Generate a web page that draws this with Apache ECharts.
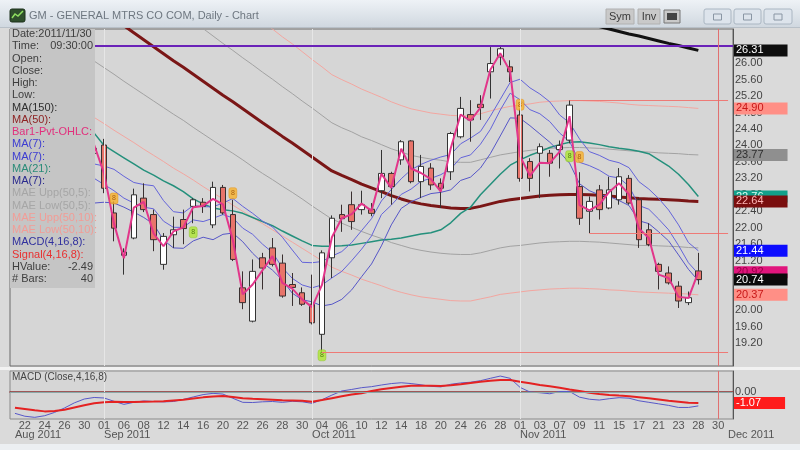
<!DOCTYPE html>
<html><head><meta charset="utf-8">
<script src="https://cdn.jsdelivr.net/npm/echarts@6/dist/echarts.min.js"></script>
<style>html,body{margin:0;padding:0;background:#dadada;}#c{width:800px;height:450px;}</style>
</head><body><div id="c"></div>
<script>
// ---------- categories (trading days) ----------
const dates = [
 '2011-08-19','2011-08-22','2011-08-23','2011-08-24','2011-08-25','2011-08-26','2011-08-29','2011-08-30','2011-08-31',
 '2011-09-01','2011-09-02','2011-09-06','2011-09-07','2011-09-08','2011-09-09','2011-09-12','2011-09-13','2011-09-14','2011-09-15','2011-09-16',
 '2011-09-19','2011-09-20','2011-09-21','2011-09-22','2011-09-23','2011-09-26','2011-09-27','2011-09-28','2011-09-29','2011-09-30',
 '2011-10-03','2011-10-04','2011-10-05','2011-10-06','2011-10-07','2011-10-10','2011-10-11','2011-10-12','2011-10-13','2011-10-14',
 '2011-10-17','2011-10-18','2011-10-19','2011-10-20','2011-10-21','2011-10-24','2011-10-25','2011-10-26','2011-10-27','2011-10-28','2011-10-31',
 '2011-11-01','2011-11-02','2011-11-03','2011-11-04','2011-11-07','2011-11-08','2011-11-09','2011-11-10','2011-11-11','2011-11-14',
 '2011-11-15','2011-11-16','2011-11-17','2011-11-18','2011-11-21','2011-11-22','2011-11-23','2011-11-25','2011-11-28','2011-11-29','2011-11-30',
 '2011-12-01'];
const monthNames = ['Jan','Feb','Mar','Apr','May','Jun','Jul','Aug','Sep','Oct','Nov','Dec'];

// ---------- price bars (first visible bar = 2011-08-31) ----------
const FIRST = 8;
const openRaw = [23.81,24.01,22.36,21.33,21.75,22.72,22.32,21.11,21.83,22.20,22.52,22.62,22.07,22.98,22.32,20.54,19.73,21.27,21.51,21.14,20.62,20.42,20.14,19.41,21.27,22.32,22.56,22.44,22.45,22.90,23.32,23.65,24.11,23.12,23.45,23.08,23.36,24.21,24.75,25.00,25.79,26.15,25.91,24.74,23.61,23.81,23.81,23.90,24.13,23.00,22.40,22.92,22.48,22.68,23.20,22.68,21.95,21.11,20.90,20.58,20.18,20.95];
const highRaw = [24.35,24.16,22.64,21.50,22.95,23.08,22.44,21.87,22.27,22.44,22.72,22.72,23.12,23.04,22.68,20.94,21.23,21.39,21.75,21.35,20.90,20.55,20.86,21.45,22.30,22.56,22.88,22.90,22.60,23.89,23.36,24.13,24.13,23.77,23.57,23.20,24.33,25.18,25.10,25.22,26.39,26.43,26.07,24.90,23.69,24.05,23.89,24.12,25.10,23.35,22.76,23.04,23.24,23.45,23.28,22.72,22.11,21.15,21.06,20.70,20.45,21.39];
const lowRaw = [23.75,22.84,21.67,20.86,21.72,22.38,21.43,20.98,21.51,21.60,22.11,22.36,21.99,22.32,21.19,20.02,19.70,20.50,21.06,20.30,20.10,20.10,19.65,18.98,20.78,21.90,21.95,22.32,22.28,22.72,22.56,23.53,23.08,22.72,22.92,22.48,23.16,24.17,24.09,24.62,25.14,25.95,25.54,23.12,22.88,22.72,23.24,23.44,24.05,22.07,21.87,22.20,22.45,22.56,22.56,21.51,21.55,20.50,20.62,20.05,20.12,20.62];
const closeRaw = [23.93,22.96,21.99,21.41,22.80,22.44,21.71,21.79,21.95,21.98,22.68,22.52,22.98,22.36,21.23,20.18,20.94,21.02,21.11,20.34,20.55,20.14,19.69,21.39,22.23,22.22,22.15,22.56,22.35,23.32,23.00,24.09,23.12,23.49,23.04,22.96,24.29,24.90,24.62,24.92,25.99,26.35,25.79,23.20,23.20,23.97,23.57,24.00,24.98,22.23,22.64,22.44,22.92,23.24,22.60,21.71,21.59,20.94,20.66,20.22,20.30,20.74];

// ---------- indicator lines ----------
const ma150Raw = [26.95,26.89,26.83,26.77,26.71,26.66,26.60,26.54,26.48,26.43,26.37,26.31]; // from 2011-11-10
const ma50Raw = [27.42,27.25,27.08,26.91,26.74,26.57,26.40,26.23,26.06,25.90,25.73,25.56,25.39,25.22,25.06,24.89,24.72,24.55,24.39,24.22,24.06,23.89,23.72,23.55,23.38,23.27,23.17,23.06,22.97,22.88,22.78,22.70,22.63,22.58,22.54,22.51,22.48,22.47,22.47,22.52,22.58,22.64,22.68,22.71,22.74,22.77,22.79,22.80,22.81,22.81,22.80,22.79,22.77,22.75,22.73,22.71,22.70,22.69,22.68,22.67,22.65,22.64];
const pivotRaw = [24.01,23.32,22.10,21.26,22.49,22.63,21.86,21.55,21.91,22.01,22.50,22.53,22.70,22.57,21.70,20.38,20.62,20.97,21.31,20.66,20.52,20.26,20.07,20.61,21.77,22.23,22.33,22.59,22.41,23.31,22.97,23.92,23.44,23.33,23.18,22.88,23.93,24.75,24.60,24.92,25.84,26.24,25.80,23.74,23.26,23.58,23.57,23.85,24.71,22.55,22.42,22.56,22.87,23.08,22.81,21.98,21.75,20.86,20.78,20.32,20.29,20.92];
const ma7HighRaw = [23.55,23.50,23.42,23.25,23.10,23.05,23.02,22.66,22.39,22.36,22.54,22.51,22.51,22.60,22.71,22.52,22.35,22.16,22.02,21.77,21.46,21.16,21.15,21.18,21.31,21.42,21.64,21.93,22.22,22.65,22.93,23.19,23.41,23.54,23.64,23.72,23.78,24.04,24.18,24.34,24.71,25.12,25.53,25.61,25.40,25.25,25.06,24.74,24.55,24.16,23.85,23.76,23.64,23.58,23.46,23.12,22.94,22.71,22.43,22.07,21.64,21.44];
const ma7CloseRaw = [23.20,23.05,22.90,22.72,22.60,22.50,22.46,22.16,22.01,22.01,22.19,22.15,22.23,22.32,22.24,21.99,21.84,21.60,21.40,21.03,20.77,20.61,20.54,20.61,20.78,20.94,21.20,21.48,21.80,22.32,22.55,22.81,22.94,23.13,23.20,23.29,23.43,23.70,23.77,24.03,24.39,24.86,25.27,25.11,24.87,24.77,24.58,24.30,24.10,23.59,23.51,23.40,23.25,23.21,23.01,22.54,22.45,22.21,21.95,21.57,21.15,20.88];
const ma7LowRaw = [22.60,22.62,22.60,22.50,22.38,22.25,22.09,21.70,21.51,21.50,21.68,21.77,21.71,21.84,21.87,21.66,21.38,21.15,20.97,20.73,20.41,20.25,20.20,20.10,20.14,20.26,20.49,20.81,21.12,21.56,22.07,22.47,22.63,22.74,22.83,22.86,22.92,23.15,23.23,23.45,23.80,24.23,24.67,24.66,24.48,24.28,24.08,23.84,23.57,23.07,22.90,22.80,22.76,22.66,22.54,22.17,22.10,21.90,21.68,21.34,20.99,20.71];
const ma21Raw = [24.30,24.00,23.85,23.70,23.55,23.40,23.28,23.14,23.02,22.88,22.70,22.58,22.48,22.44,22.41,22.35,22.25,22.15,22.05,21.92,21.80,21.68,21.57,21.55,21.55,21.56,21.58,21.62,21.66,21.70,21.72,21.75,21.80,21.85,21.88,21.95,22.12,22.35,22.50,22.80,23.05,23.30,23.52,23.65,23.76,23.85,23.95,24.02,24.08,24.09,24.06,24.02,23.97,23.93,23.90,23.86,23.80,23.65,23.50,23.30,23.05,22.76];
const maeUpp5Raw = [28.79,28.61,28.43,28.26,28.08,27.90,27.72,27.54,27.36,27.20,27.02,26.84,26.66,26.48,26.31,26.13,25.96,25.78,25.61,25.43,25.26,25.08,24.91,24.73,24.55,24.43,24.33,24.21,24.12,24.02,23.92,23.84,23.76,23.71,23.67,23.64,23.60,23.59,23.59,23.65,23.71,23.77,23.81,23.85,23.88,23.91,23.93,23.94,23.95,23.95,23.94,23.93,23.91,23.89,23.87,23.85,23.84,23.82,23.81,23.80,23.78,23.77];
const maeLow5Raw = [26.05,25.89,25.73,25.56,25.40,25.24,25.08,24.92,24.76,24.61,24.44,24.28,24.12,23.96,23.81,23.65,23.48,23.32,23.17,23.01,22.86,22.70,22.53,22.37,22.21,22.11,22.01,21.91,21.82,21.74,21.64,21.57,21.50,21.45,21.41,21.38,21.36,21.35,21.35,21.39,21.45,21.51,21.55,21.57,21.60,21.63,21.65,21.66,21.67,21.67,21.66,21.65,21.63,21.61,21.59,21.57,21.57,21.56,21.55,21.54,21.52,21.51];
const maeUpp10Raw = [30.16,29.98,29.79,29.60,29.41,29.23,29.04,28.85,28.67,28.49,28.30,28.12,27.93,27.74,27.57,27.38,27.19,27.01,26.83,26.64,26.47,26.28,26.09,25.91,25.72,25.60,25.49,25.37,25.27,25.17,25.06,24.97,24.89,24.84,24.79,24.76,24.73,24.72,24.72,24.77,24.84,24.90,24.95,24.98,25.01,25.05,25.07,25.08,25.09,25.09,25.08,25.07,25.05,25.03,25.00,24.98,24.97,24.96,24.95,24.94,24.92,24.90];
const maeLow10Raw = [24.68,24.53,24.37,24.22,24.07,23.91,23.76,23.61,23.45,23.31,23.16,23.00,22.85,22.70,22.55,22.40,22.25,22.10,21.95,21.80,21.65,21.50,21.35,21.20,21.04,20.94,20.85,20.75,20.67,20.59,20.50,20.43,20.37,20.32,20.29,20.26,20.23,20.22,20.22,20.27,20.32,20.38,20.41,20.44,20.47,20.49,20.51,20.52,20.53,20.53,20.52,20.51,20.49,20.48,20.46,20.44,20.43,20.42,20.41,20.40,20.39,20.37];

// ---------- MACD panel (from 2011-08-19) ----------
const macdRaw = [-2.07,-2.35,-2.46,-2.30,-1.98,-1.55,-1.05,-0.68,-0.53,-0.58,-0.90,-1.20,-1.00,-0.87,-0.92,-0.96,-0.92,-0.72,-0.48,-0.25,-0.13,-0.20,-0.61,-1.00,-1.02,-0.95,-0.92,-1.00,-0.90,-0.95,-1.10,-0.75,-0.30,0.10,0.25,0.42,0.52,0.68,0.82,0.90,0.82,0.70,0.55,0.50,0.75,0.88,0.95,1.10,1.33,1.55,1.33,0.45,0.00,-0.07,-0.17,0.05,0.05,-0.50,-0.70,-0.78,-0.65,-0.55,-0.60,-0.85,-1.00,-1.15,-1.30,-1.50,-1.50,-1.35];
const signalRaw = [-1.52,-1.65,-1.78,-1.88,-1.85,-1.72,-1.50,-1.28,-1.10,-1.00,-0.95,-0.98,-0.96,-0.94,-0.93,-0.90,-0.82,-0.74,-0.63,-0.52,-0.44,-0.39,-0.48,-0.60,-0.66,-0.70,-0.75,-0.80,-0.82,-0.86,-0.94,-0.78,-0.60,-0.42,-0.25,-0.12,0.10,0.26,0.40,0.51,0.60,0.62,0.60,0.58,0.66,0.75,0.88,1.00,1.10,1.17,1.17,1.00,0.85,0.68,0.55,0.42,0.25,0.10,-0.08,-0.20,-0.29,-0.35,-0.40,-0.50,-0.61,-0.72,-0.84,-0.94,-1.04,-1.07];

// ---------- signal markers ----------
const sellIdx = [10, 22, 51, 57];
const sellVal = [22.71, 22.84, 24.99, 23.72];
const buyIdx = [18, 31, 56];
const buyVal = [21.89, 18.90, 23.74];

// ---------- tick labels ----------
const yTicks = [19.2,19.6,20.0,20.4,20.8,21.2,21.6,22.0,22.4,22.8,23.2,23.6,24.0,24.4,24.8,25.2,25.6,26.0];
const macdTicks = [0];
const cursorIdx = 71;

// ---------- build ----------
const N = dates.length;
function pad(arr, lead){ const o = new Array(N).fill(null); arr.forEach((v,k)=>{ o[lead+k]=v; }); return o; }
const openP = pad(openRaw, FIRST), highP = pad(highRaw, FIRST), lowP = pad(lowRaw, FIRST), closeP = pad(closeRaw, FIRST);
const last = a => a[a.length-1];
const candleData = dates.map((d,i)=> openP[i]==null ? '-' : [openP[i], closeP[i], lowP[i], highP[i]]);
const FONT = '"Liberation Sans", Arial, sans-serif';

function lineS(name, raw, lead, color, width, z){
  return {name, type:'line', xAxisIndex:0, yAxisIndex:0, data: pad(raw, lead), symbol:'none', showSymbol:false,
    lineStyle:{color, width}, itemStyle:{color}, z: z||1, animation:false, silent:true, clip:true};
}

const tags = [
  {v:last(ma150Raw), bg:'#0e0e0e', fg:'#ffffff'},
  {v:last(maeUpp10Raw), bg:'#ff8f86', fg:'#c81818'},
  {v:last(maeUpp5Raw), bg:'#8f8f8f', fg:'#2e2e2e'},
  {v:last(ma21Raw), bg:'#12a08a', fg:'#d8fff2'},
  {v:last(ma50Raw), bg:'#7a0e0e', fg:'#ffb4b4'},
  {v:last(ma7HighRaw), bg:'#0c0cff', fg:'#ffffff'},
  {v:last(pivotRaw), bg:'#e0157c', fg:'#9a0048'},
  {v:last(closeRaw), bg:'#0a0a0a', fg:'#ffffff'},
  {v:last(maeLow10Raw), bg:'#ff8f86', fg:'#c81818'}
];
function tagItem(t){
  return {yAxis:t.v, lineStyle:{color:'rgba(0,0,0,0)', width:1, type:'solid'},
    label:{show:true, position:'end', distance:1, formatter:t.v.toFixed(2), backgroundColor:t.bg, color:t.fg,
      padding:[1,24,0,2], fontSize:11, lineHeight:11, fontFamily:FONT}};
}

const redSegs = [
  {from:56, v:highP[56]},
  {from:58, v:lowP[58]},
  {from:31, v:lowP[31]}
];
const topLine = Math.max(...highRaw);
const monthStarts = [9, 30, 51];

const panelRows = [
 ['Date:2011/11/30','', '#3e3e3e'],
 ['Time:','09:30:00','#3e3e3e'],
 ['Open:','','#3e3e3e'],
 ['Close:','','#3e3e3e'],
 ['High:','','#3e3e3e'],
 ['Low:','','#3e3e3e'],
 ['MA(150):','','#2e2e2e'],
 ['MA(50):','','#8e2424'],
 ['Bar1-Pvt-OHLC:','','#e2307c'],
 ['MA(7):','','#3c3cd2'],
 ['MA(7):','','#3c3cd2'],
 ['MA(21):','','#2a8c78'],
 ['MA(7):','','#2a2a8e'],
 ['MAE Upp(50,5):','','#a6a6a6'],
 ['MAE Low(50,5):','','#a6a6a6'],
 ['MAE Upp(50,10):','','#f29c96'],
 ['MAE Low(50,10):','','#f29c96'],
 ['MACD(4,16,8):','','#30309e'],
 ['Signal(4,16,8):','','#e83030'],
 ['HValue:','-2.49','#3e3e3e'],
 ['# Bars:','40','#3e3e3e']
];

const graphics = [];
graphics.push({type:'rect', shape:{x:0,y:0,width:800,height:28}, style:{fill:new echarts.graphic.LinearGradient(0,0,0,1,[{offset:0,color:'#eef2f6'},{offset:1,color:'#cfd7df'}])}, z:100});
graphics.push({type:'rect', shape:{x:0,y:27,width:800,height:1}, style:{fill:'#b8c0c8'}, z:101});
graphics.push({type:'rect', shape:{x:10,y:9,width:15,height:13,r:2}, style:{fill:'#2f4f2c', stroke:'#1c301a'}, z:101});
graphics.push({type:'polyline', shape:{points:[[12,18],[15,14],[18,16],[23,11]]}, style:{stroke:'#8fe060', lineWidth:1.5, fill:null}, z:102});
graphics.push({type:'text', x:29, y:16, style:{text:'GM - GENERAL MTRS CO COM, Daily - Chart', fill:'#6e7780', fontSize:11, fontFamily:FONT, verticalAlign:'middle'}, z:101});
[[606,28,'Sym'],[638,22,'Inv']].forEach(b=>{
  graphics.push({type:'rect', shape:{x:b[0],y:9,width:b[1],height:15}, style:{fill:'#c9c9c9', stroke:'#b0b0b0'}, z:101});
  graphics.push({type:'text', x:b[0]+b[1]/2, y:17, style:{text:b[2], fill:'#3a3a3a', fontSize:11, fontFamily:FONT, align:'center', verticalAlign:'middle'}, z:102});
});
graphics.push({type:'rect', shape:{x:664,y:10,width:16,height:13}, style:{fill:'#c9c9c9', stroke:'#777'}, z:101});
graphics.push({type:'rect', shape:{x:667,y:13,width:10,height:7}, style:{fill:'#444'}, z:102});
[[704,27],[734,27],[764,28]].forEach((b,k)=>{
  graphics.push({type:'rect', shape:{x:b[0],y:9,width:b[1],height:15,r:2}, style:{fill:'#dde4ec', stroke:'#aab6c2'}, z:101});
  graphics.push({type:'rect', shape:{x:b[0]+b[1]/2-4,y:14,width:8,height:6}, style:{fill:null, stroke:'#8a96a4'}, z:102});
});
graphics.push({type:'rect', shape:{x:10,y:29,width:85,height:259}, style:{fill:'#c5c5c5'}, z:50});
panelRows.forEach((r,k)=>{
  const y = 34 + k*12.25;
  graphics.push({type:'text', x:12, y, style:{text:r[0], fill:r[2], fontSize:11, fontFamily:FONT, verticalAlign:'middle'}, z:51});
  if (r[1]) graphics.push({type:'text', x:93, y, style:{text:r[1], fill:r[2], fontSize:11, fontFamily:FONT, align:'right', verticalAlign:'middle'}, z:51});
});
graphics.push({type:'rect', shape:{x:0,y:367,width:800,height:3}, style:{fill:'#f2f2f2'}, z:40});
graphics.push({type:'rect', shape:{x:0,y:444,width:800,height:6}, style:{fill:'#eceff2'}, z:40});
graphics.push({type:'text', x:12, y:377, style:{text:'MACD (Close,4,16,8)', fill:'#444', fontSize:10, fontFamily:FONT, verticalAlign:'middle'}, z:51});

const option = {
  animation:false,
  backgroundColor:'#dadada',
  textStyle:{fontFamily:FONT},
  grid:[
    {left:10, top:29, width:723, height:337, show:true, backgroundColor:'#d6d6d6', borderColor:'#6a6a6a', borderWidth:1},
    {left:10, top:371, width:723, height:48, show:true, backgroundColor:'#d6d6d6', borderColor:'#8a8a8a', borderWidth:1}
  ],
  xAxis:[
    {type:'category', gridIndex:0, data:dates, boundaryGap:true, axisLine:{show:false}, axisTick:{show:false}, axisLabel:{show:false}, splitLine:{show:false}},
    {type:'category', gridIndex:1, data:dates, boundaryGap:true,
      axisLine:{show:true, lineStyle:{color:'#8c2e2e', width:1.5}}, axisTick:{show:false},
      axisLabel:{interval:(i)=> i%2===1, formatter:(v)=> v.slice(8), color:'#555', fontSize:11, lineHeight:10, margin:2, fontFamily:FONT}},
    {type:'category', gridIndex:1, data:dates, boundaryGap:true, position:'bottom', offset:9,
      axisLine:{show:false}, axisTick:{show:false},
      axisLabel:{interval:(i)=> i===0 || dates[i].slice(5,7)!==dates[i-1].slice(5,7),
        formatter:(v)=> monthNames[+v.slice(5,7)-1]+' '+v.slice(0,4), align:'left', color:'#555', fontSize:11, lineHeight:10, margin:2, fontFamily:FONT}}
  ],
  yAxis:[
    {type:'value', gridIndex:0, position:'right', min:18.64, max:26.83,
      axisLine:{show:true, lineStyle:{color:'#555'}}, axisTick:{show:false}, splitLine:{show:false},
      axisLabel:{customValues:yTicks, formatter:(v)=> v.toFixed(2), color:'#444', fontSize:11, margin:2, fontFamily:FONT}},
    {type:'value', gridIndex:1, position:'right', min:-2.62, max:2.04,
      axisLine:{show:true, lineStyle:{color:'#555'}}, axisTick:{show:false}, splitLine:{show:false},
      axisLabel:{customValues:macdTicks, formatter:(v)=> v.toFixed(2), color:'#444', fontSize:11, margin:2, fontFamily:FONT}}
  ],
  series:[
    {name:'guides', type:'line', xAxisIndex:0, yAxisIndex:0, data:dates.map(()=>null), silent:true, z:0,
      markLine:{silent:true, symbol:'none', animation:false, label:{show:false},
        data:[
          ...monthStarts.map(i=>({xAxis:dates[i], lineStyle:{color:'#e6e6e6', width:1, type:'solid'}})),
          {yAxis:topLine, lineStyle:{color:'#6a22b8', width:2, type:'solid'}},
          ...redSegs.map(s=>[{coord:[dates[s.from], s.v], lineStyle:{color:'#ee7a76', width:1.2, type:'solid'}},{coord:[dates[N-1], s.v]}]),
          {xAxis:dates[cursorIdx], lineStyle:{color:'#e07070', width:1, type:'solid'}}
        ]}},
    lineS('MAE Upp(50,10)', maeUpp10Raw, FIRST, '#f3a6a0', 1),
    lineS('MAE Low(50,10)', maeLow10Raw, FIRST, '#f3a6a0', 1),
    lineS('MAE Upp(50,5)', maeUpp5Raw, FIRST, '#a2a2a2', 1),
    lineS('MAE Low(50,5)', maeLow5Raw, FIRST, '#a2a2a2', 1),
    lineS('MA(150)', ma150Raw, 58, '#111111', 3),
    lineS('MA(50)', ma50Raw, FIRST, '#7a1616', 3),
    lineS('MA(21)', ma21Raw, FIRST, '#24907c', 1.5),
    lineS('MA(7) H', ma7HighRaw, FIRST, '#6464da', 1),
    lineS('MA(7) C', ma7CloseRaw, FIRST, '#6464da', 1),
    lineS('MA(7) L', ma7LowRaw, FIRST, '#5656c8', 1),
    {name:'Bar1', type:'candlestick', xAxisIndex:0, yAxisIndex:0, data:candleData, barWidth:6, z:2, silent:true,
      itemStyle:{color:'#ffffff', color0:'#e8746a', borderColor:'#333333', borderColor0:'#3a3030', borderWidth:1}},
    lineS('Bar1-Pvt-OHLC', pivotRaw, FIRST, '#e2368a', 2, 3),
    {name:'sell', type:'scatter', xAxisIndex:0, yAxisIndex:0, z:4, silent:true,
      data: sellIdx.map((i,k)=>[dates[i], sellVal[k]]), symbol:'roundRect', symbolSize:[8,11],
      itemStyle:{color:'#f7b22a', borderColor:'#e08a10', borderWidth:0.5},
      label:{show:true, formatter:'8', fontSize:7, color:'#9a4a00', position:'inside'}},
    {name:'buy', type:'scatter', xAxisIndex:0, yAxisIndex:0, z:4, silent:true,
      data: buyIdx.map((i,k)=>[dates[i], buyVal[k]]), symbol:'roundRect', symbolSize:[8,11],
      itemStyle:{color:'#aee632', borderColor:'#86c020', borderWidth:0.5},
      label:{show:true, formatter:'8', fontSize:7, color:'#3a6a00', position:'inside'}},
    {name:'tags', type:'line', xAxisIndex:0, yAxisIndex:0, data:dates.map(()=>null), silent:true, z:10,
      markLine:{silent:true, symbol:'none', animation:false, label:{show:true}, data: tags.map(tagItem)}},
    {name:'MACD', type:'line', xAxisIndex:1, yAxisIndex:1, data:pad(macdRaw,0), symbol:'none', silent:true,
      lineStyle:{color:'#5858c8', width:1}, z:2,
      markLine:{silent:true, symbol:'none', animation:false, label:{show:false},
        data:[
          ...monthStarts.map(i=>({xAxis:dates[i], lineStyle:{color:'#e6e6e6', width:1, type:'solid'}})),
          {yAxis:0, lineStyle:{color:'#8aa8a8', width:1.2, type:'solid'}},
          {xAxis:dates[cursorIdx], lineStyle:{color:'#e07070', width:1, type:'solid'}}
        ]}},
    {name:'Signal', type:'line', xAxisIndex:1, yAxisIndex:1, data:pad(signalRaw,0), symbol:'none', silent:true,
      lineStyle:{color:'#e42222', width:2}, z:3,
      markLine:{silent:true, symbol:'none', animation:false, label:{show:true},
        data:[tagItem({v:last(signalRaw), bg:'#ff1c1c', fg:'#ffffff'})]}}
  ],
  graphic: graphics
};
const chart = echarts.init(document.getElementById('c'), null, {renderer:'canvas'});
chart.setOption(option);
</script>
</body></html>
